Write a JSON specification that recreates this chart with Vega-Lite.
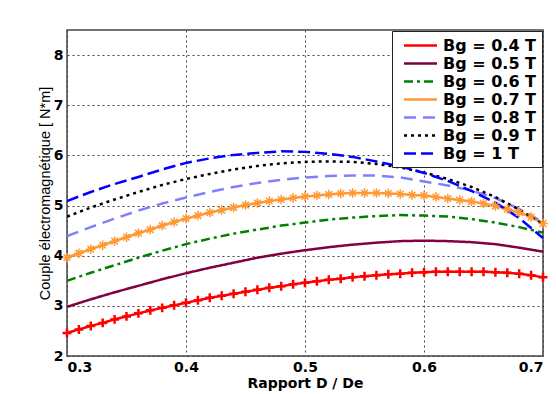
{
"$schema":"https://vega.github.io/schema/vega-lite/v6.json",
"width":476,"height":326,
"autosize":{"type":"none"},
"padding":{"left":67,"top":30,"right":13,"bottom":38},
"background":"white",
"config":{"view":{"stroke":"#444","strokeWidth":1.5},
"axis":{"labelFont":"DejaVu Sans","labelFontWeight":"bold","labelFontSize":14,"labelColor":"black","ticks":false,"domain":false,"gridColor":"#444","gridDash":[2,3],"gridWidth":1,"titleColor":"black"}},
"data":{"values":[
{"Bg":"Bg = 0.4 T","x":0.30,"y":2.46},{"Bg":"Bg = 0.4 T","x":0.31,"y":2.53},{"Bg":"Bg = 0.4 T","x":0.32,"y":2.60},{"Bg":"Bg = 0.4 T","x":0.33,"y":2.66},{"Bg":"Bg = 0.4 T","x":0.34,"y":2.73},{"Bg":"Bg = 0.4 T","x":0.35,"y":2.79},{"Bg":"Bg = 0.4 T","x":0.36,"y":2.85},{"Bg":"Bg = 0.4 T","x":0.37,"y":2.91},{"Bg":"Bg = 0.4 T","x":0.38,"y":2.96},{"Bg":"Bg = 0.4 T","x":0.39,"y":3.01},{"Bg":"Bg = 0.4 T","x":0.40,"y":3.06},{"Bg":"Bg = 0.4 T","x":0.41,"y":3.11},{"Bg":"Bg = 0.4 T","x":0.42,"y":3.16},{"Bg":"Bg = 0.4 T","x":0.43,"y":3.20},{"Bg":"Bg = 0.4 T","x":0.44,"y":3.24},{"Bg":"Bg = 0.4 T","x":0.45,"y":3.28},{"Bg":"Bg = 0.4 T","x":0.46,"y":3.32},{"Bg":"Bg = 0.4 T","x":0.47,"y":3.36},{"Bg":"Bg = 0.4 T","x":0.48,"y":3.39},{"Bg":"Bg = 0.4 T","x":0.49,"y":3.43},{"Bg":"Bg = 0.4 T","x":0.50,"y":3.46},{"Bg":"Bg = 0.4 T","x":0.51,"y":3.49},{"Bg":"Bg = 0.4 T","x":0.52,"y":3.52},{"Bg":"Bg = 0.4 T","x":0.53,"y":3.54},{"Bg":"Bg = 0.4 T","x":0.54,"y":3.57},{"Bg":"Bg = 0.4 T","x":0.55,"y":3.59},{"Bg":"Bg = 0.4 T","x":0.56,"y":3.61},{"Bg":"Bg = 0.4 T","x":0.57,"y":3.63},{"Bg":"Bg = 0.4 T","x":0.58,"y":3.64},{"Bg":"Bg = 0.4 T","x":0.59,"y":3.66},{"Bg":"Bg = 0.4 T","x":0.60,"y":3.67},{"Bg":"Bg = 0.4 T","x":0.61,"y":3.68},{"Bg":"Bg = 0.4 T","x":0.62,"y":3.68},{"Bg":"Bg = 0.4 T","x":0.63,"y":3.68},{"Bg":"Bg = 0.4 T","x":0.64,"y":3.68},{"Bg":"Bg = 0.4 T","x":0.65,"y":3.68},{"Bg":"Bg = 0.4 T","x":0.66,"y":3.67},{"Bg":"Bg = 0.4 T","x":0.67,"y":3.66},{"Bg":"Bg = 0.4 T","x":0.68,"y":3.64},{"Bg":"Bg = 0.4 T","x":0.69,"y":3.61},{"Bg":"Bg = 0.4 T","x":0.70,"y":3.57},
{"Bg":"Bg = 0.5 T","x":0.30,"y":2.98},{"Bg":"Bg = 0.5 T","x":0.32,"y":3.13},{"Bg":"Bg = 0.5 T","x":0.34,"y":3.27},{"Bg":"Bg = 0.5 T","x":0.36,"y":3.40},{"Bg":"Bg = 0.5 T","x":0.38,"y":3.53},{"Bg":"Bg = 0.5 T","x":0.40,"y":3.65},{"Bg":"Bg = 0.5 T","x":0.42,"y":3.76},{"Bg":"Bg = 0.5 T","x":0.44,"y":3.86},{"Bg":"Bg = 0.5 T","x":0.46,"y":3.96},{"Bg":"Bg = 0.5 T","x":0.48,"y":4.04},{"Bg":"Bg = 0.5 T","x":0.50,"y":4.11},{"Bg":"Bg = 0.5 T","x":0.52,"y":4.17},{"Bg":"Bg = 0.5 T","x":0.54,"y":4.22},{"Bg":"Bg = 0.5 T","x":0.56,"y":4.26},{"Bg":"Bg = 0.5 T","x":0.58,"y":4.29},{"Bg":"Bg = 0.5 T","x":0.60,"y":4.30},{"Bg":"Bg = 0.5 T","x":0.62,"y":4.29},{"Bg":"Bg = 0.5 T","x":0.64,"y":4.27},{"Bg":"Bg = 0.5 T","x":0.66,"y":4.23},{"Bg":"Bg = 0.5 T","x":0.68,"y":4.16},{"Bg":"Bg = 0.5 T","x":0.70,"y":4.08},
{"Bg":"Bg = 0.6 T","x":0.30,"y":3.50},{"Bg":"Bg = 0.6 T","x":0.32,"y":3.66},{"Bg":"Bg = 0.6 T","x":0.34,"y":3.81},{"Bg":"Bg = 0.6 T","x":0.36,"y":3.96},{"Bg":"Bg = 0.6 T","x":0.38,"y":4.10},{"Bg":"Bg = 0.6 T","x":0.40,"y":4.23},{"Bg":"Bg = 0.6 T","x":0.42,"y":4.34},{"Bg":"Bg = 0.6 T","x":0.44,"y":4.44},{"Bg":"Bg = 0.6 T","x":0.46,"y":4.52},{"Bg":"Bg = 0.6 T","x":0.48,"y":4.60},{"Bg":"Bg = 0.6 T","x":0.50,"y":4.66},{"Bg":"Bg = 0.6 T","x":0.52,"y":4.72},{"Bg":"Bg = 0.6 T","x":0.54,"y":4.76},{"Bg":"Bg = 0.6 T","x":0.56,"y":4.79},{"Bg":"Bg = 0.6 T","x":0.58,"y":4.81},{"Bg":"Bg = 0.6 T","x":0.60,"y":4.80},{"Bg":"Bg = 0.6 T","x":0.62,"y":4.78},{"Bg":"Bg = 0.6 T","x":0.64,"y":4.73},{"Bg":"Bg = 0.6 T","x":0.66,"y":4.66},{"Bg":"Bg = 0.6 T","x":0.68,"y":4.57},{"Bg":"Bg = 0.6 T","x":0.70,"y":4.46},
{"Bg":"Bg = 0.7 T","x":0.30,"y":3.96},{"Bg":"Bg = 0.7 T","x":0.31,"y":4.05},{"Bg":"Bg = 0.7 T","x":0.32,"y":4.13},{"Bg":"Bg = 0.7 T","x":0.33,"y":4.21},{"Bg":"Bg = 0.7 T","x":0.34,"y":4.29},{"Bg":"Bg = 0.7 T","x":0.35,"y":4.37},{"Bg":"Bg = 0.7 T","x":0.36,"y":4.45},{"Bg":"Bg = 0.7 T","x":0.37,"y":4.52},{"Bg":"Bg = 0.7 T","x":0.38,"y":4.60},{"Bg":"Bg = 0.7 T","x":0.39,"y":4.67},{"Bg":"Bg = 0.7 T","x":0.40,"y":4.74},{"Bg":"Bg = 0.7 T","x":0.41,"y":4.80},{"Bg":"Bg = 0.7 T","x":0.42,"y":4.86},{"Bg":"Bg = 0.7 T","x":0.43,"y":4.91},{"Bg":"Bg = 0.7 T","x":0.44,"y":4.96},{"Bg":"Bg = 0.7 T","x":0.45,"y":5.01},{"Bg":"Bg = 0.7 T","x":0.46,"y":5.05},{"Bg":"Bg = 0.7 T","x":0.47,"y":5.09},{"Bg":"Bg = 0.7 T","x":0.48,"y":5.12},{"Bg":"Bg = 0.7 T","x":0.49,"y":5.15},{"Bg":"Bg = 0.7 T","x":0.50,"y":5.18},{"Bg":"Bg = 0.7 T","x":0.51,"y":5.20},{"Bg":"Bg = 0.7 T","x":0.52,"y":5.22},{"Bg":"Bg = 0.7 T","x":0.53,"y":5.24},{"Bg":"Bg = 0.7 T","x":0.54,"y":5.25},{"Bg":"Bg = 0.7 T","x":0.55,"y":5.25},{"Bg":"Bg = 0.7 T","x":0.56,"y":5.25},{"Bg":"Bg = 0.7 T","x":0.57,"y":5.24},{"Bg":"Bg = 0.7 T","x":0.58,"y":5.23},{"Bg":"Bg = 0.7 T","x":0.59,"y":5.21},{"Bg":"Bg = 0.7 T","x":0.60,"y":5.20},{"Bg":"Bg = 0.7 T","x":0.61,"y":5.17},{"Bg":"Bg = 0.7 T","x":0.62,"y":5.14},{"Bg":"Bg = 0.7 T","x":0.63,"y":5.11},{"Bg":"Bg = 0.7 T","x":0.64,"y":5.08},{"Bg":"Bg = 0.7 T","x":0.65,"y":5.04},{"Bg":"Bg = 0.7 T","x":0.66,"y":4.99},{"Bg":"Bg = 0.7 T","x":0.67,"y":4.93},{"Bg":"Bg = 0.7 T","x":0.68,"y":4.86},{"Bg":"Bg = 0.7 T","x":0.69,"y":4.77},{"Bg":"Bg = 0.7 T","x":0.70,"y":4.64},
{"Bg":"Bg = 0.8 T","x":0.30,"y":4.39},{"Bg":"Bg = 0.8 T","x":0.32,"y":4.57},{"Bg":"Bg = 0.8 T","x":0.34,"y":4.74},{"Bg":"Bg = 0.8 T","x":0.36,"y":4.90},{"Bg":"Bg = 0.8 T","x":0.38,"y":5.04},{"Bg":"Bg = 0.8 T","x":0.40,"y":5.16},{"Bg":"Bg = 0.8 T","x":0.42,"y":5.27},{"Bg":"Bg = 0.8 T","x":0.44,"y":5.37},{"Bg":"Bg = 0.8 T","x":0.46,"y":5.45},{"Bg":"Bg = 0.8 T","x":0.48,"y":5.51},{"Bg":"Bg = 0.8 T","x":0.50,"y":5.56},{"Bg":"Bg = 0.8 T","x":0.52,"y":5.59},{"Bg":"Bg = 0.8 T","x":0.54,"y":5.60},{"Bg":"Bg = 0.8 T","x":0.56,"y":5.60},{"Bg":"Bg = 0.8 T","x":0.58,"y":5.56},{"Bg":"Bg = 0.8 T","x":0.60,"y":5.48},{"Bg":"Bg = 0.8 T","x":0.62,"y":5.40},{"Bg":"Bg = 0.8 T","x":0.64,"y":5.30},{"Bg":"Bg = 0.8 T","x":0.66,"y":5.15},{"Bg":"Bg = 0.8 T","x":0.68,"y":4.93},{"Bg":"Bg = 0.8 T","x":0.70,"y":4.67},
{"Bg":"Bg = 0.9 T","x":0.30,"y":4.78},{"Bg":"Bg = 0.9 T","x":0.32,"y":4.96},{"Bg":"Bg = 0.9 T","x":0.34,"y":5.12},{"Bg":"Bg = 0.9 T","x":0.36,"y":5.27},{"Bg":"Bg = 0.9 T","x":0.38,"y":5.41},{"Bg":"Bg = 0.9 T","x":0.40,"y":5.53},{"Bg":"Bg = 0.9 T","x":0.42,"y":5.63},{"Bg":"Bg = 0.9 T","x":0.44,"y":5.72},{"Bg":"Bg = 0.9 T","x":0.46,"y":5.79},{"Bg":"Bg = 0.9 T","x":0.48,"y":5.84},{"Bg":"Bg = 0.9 T","x":0.50,"y":5.87},{"Bg":"Bg = 0.9 T","x":0.52,"y":5.88},{"Bg":"Bg = 0.9 T","x":0.54,"y":5.87},{"Bg":"Bg = 0.9 T","x":0.56,"y":5.83},{"Bg":"Bg = 0.9 T","x":0.58,"y":5.76},{"Bg":"Bg = 0.9 T","x":0.60,"y":5.66},{"Bg":"Bg = 0.9 T","x":0.62,"y":5.53},{"Bg":"Bg = 0.9 T","x":0.64,"y":5.37},{"Bg":"Bg = 0.9 T","x":0.66,"y":5.17},{"Bg":"Bg = 0.9 T","x":0.68,"y":4.92},{"Bg":"Bg = 0.9 T","x":0.70,"y":4.64},
{"Bg":"Bg = 1 T","x":0.30,"y":5.09},{"Bg":"Bg = 1 T","x":0.32,"y":5.27},{"Bg":"Bg = 1 T","x":0.34,"y":5.43},{"Bg":"Bg = 1 T","x":0.36,"y":5.57},{"Bg":"Bg = 1 T","x":0.38,"y":5.72},{"Bg":"Bg = 1 T","x":0.40,"y":5.85},{"Bg":"Bg = 1 T","x":0.42,"y":5.94},{"Bg":"Bg = 1 T","x":0.44,"y":6.01},{"Bg":"Bg = 1 T","x":0.46,"y":6.05},{"Bg":"Bg = 1 T","x":0.48,"y":6.08},{"Bg":"Bg = 1 T","x":0.50,"y":6.07},{"Bg":"Bg = 1 T","x":0.52,"y":6.03},{"Bg":"Bg = 1 T","x":0.54,"y":5.97},{"Bg":"Bg = 1 T","x":0.56,"y":5.88},{"Bg":"Bg = 1 T","x":0.58,"y":5.78},{"Bg":"Bg = 1 T","x":0.60,"y":5.65},{"Bg":"Bg = 1 T","x":0.62,"y":5.49},{"Bg":"Bg = 1 T","x":0.64,"y":5.29},{"Bg":"Bg = 1 T","x":0.66,"y":5.06},{"Bg":"Bg = 1 T","x":0.68,"y":4.75},{"Bg":"Bg = 1 T","x":0.70,"y":4.35}
]},
"encoding":{
"x":{"field":"x","type":"quantitative","scale":{"domain":[0.3,0.7],"nice":false,"zero":false},
"axis":{"values":[0.3,0.4,0.5,0.6,0.7],"format":".1f","labelPadding":4,"title":"Rapport D / De","titleFont":"DejaVu Sans","titleFontWeight":"bold","titleFontSize":14,"titlePadding":2}},
"y":{"field":"y","type":"quantitative","scale":{"domain":[2,8.5],"nice":false,"zero":false},
"axis":{"values":[2,3,4,5,6,7,8],"format":"d","labelPadding":4,"title":"Couple électromagnétique [ N*m]","titleFont":"Liberation Sans","titleFontWeight":"normal","titleFontSize":14.5,"titlePadding":1}}
},
"layer":[
{"mark":{"type":"line","clip":true},
"encoding":{
"color":{"field":"Bg","type":"nominal","scale":{"domain":["Bg = 0.4 T","Bg = 0.5 T","Bg = 0.6 T","Bg = 0.7 T","Bg = 0.8 T","Bg = 0.9 T","Bg = 1 T"],"range":["#ff0000","#800040","#008000","#ff9933","#8080ff","#000000","#0000ff"]},
"legend":{"title":null,"orient":"top-right","offset":1,"fillColor":"white","strokeColor":"#222","padding":5,"symbolType":"M-2,0L2,0","symbolSize":272,"symbolOffset":14,"symbolStrokeWidth":2.5,"labelFont":"DejaVu Sans","labelFontWeight":"bold","labelFontSize":16,"labelColor":"black","labelOffset":13,"rowPadding":-6}},
"strokeDash":{"field":"Bg","type":"nominal","scale":{"domain":["Bg = 0.4 T","Bg = 0.5 T","Bg = 0.6 T","Bg = 0.7 T","Bg = 0.8 T","Bg = 0.9 T","Bg = 1 T"],"range":[[1,0],[1,0],[9,4,3,4],[1,0],[12,7],[3,4],[12,5]]}},
"strokeWidth":{"field":"Bg","type":"nominal","scale":{"domain":["Bg = 0.4 T","Bg = 0.5 T","Bg = 0.6 T","Bg = 0.7 T","Bg = 0.8 T","Bg = 0.9 T","Bg = 1 T"],"range":[2.5,2.5,2.5,1.6,2.5,3,3]},"legend":null}
}},
{"transform":[{"filter":"datum.Bg == 'Bg = 0.4 T'"}],
"mark":{"type":"point","shape":"M-1,0L1,0M0,-1L0,1","filled":false,"stroke":"#ff0000","strokeWidth":2.5,"size":80,"opacity":1}},
{"transform":[{"filter":"datum.Bg == 'Bg = 0.7 T'"}],
"mark":{"type":"point","shape":"M-1,0L1,0M0,-1L0,1M-0.7,-0.7L0.7,0.7M-0.7,0.7L0.7,-0.7","filled":false,"stroke":"#ff9933","strokeWidth":1.5,"size":90,"opacity":1}}
]
}
